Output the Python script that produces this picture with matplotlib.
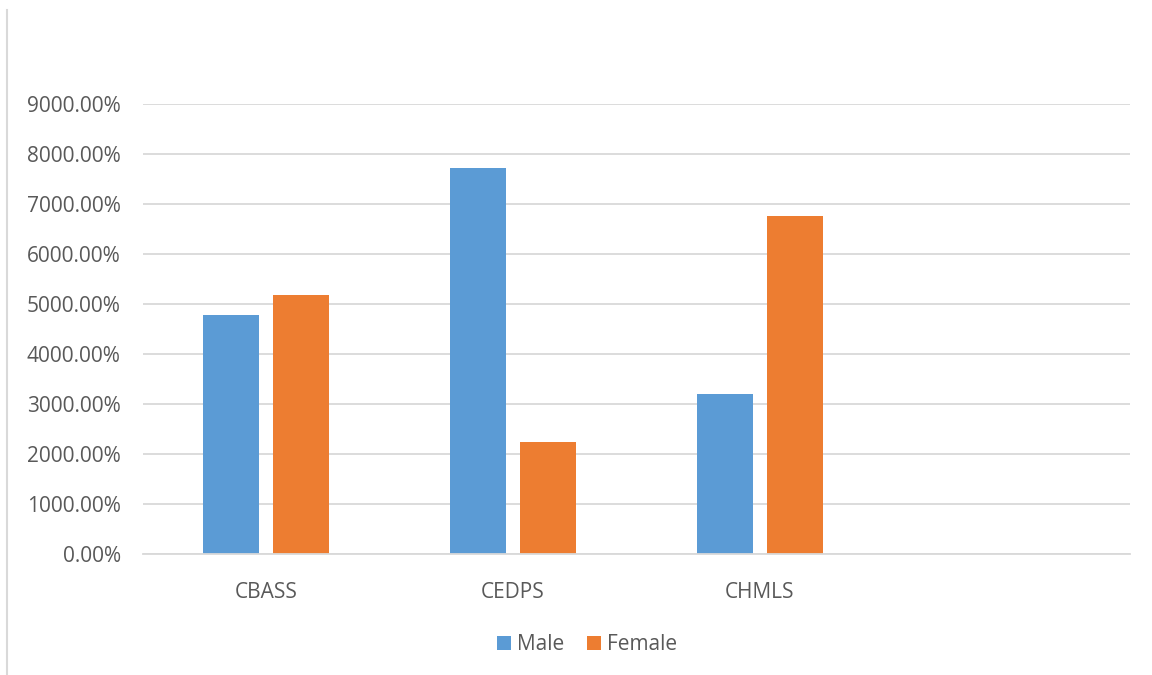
import matplotlib
matplotlib.use("Agg")
import matplotlib.pyplot as plt
from matplotlib.patches import Patch
from matplotlib.lines import Line2D

categories = ["CBASS", "CEDPS", "CHMLS", ""]
male = [4780, 7720, 3200, None]
female = [5180, 2240, 6760, None]
yticks = [0, 1000, 2000, 3000, 4000, 5000, 6000, 7000, 8000, 9000]

BLUE = "#5B9BD5"
ORANGE = "#ED7D31"
TEXT = "#595959"
GRID = "#D9D9D9"

plt.rcParams["font.family"] = ["Open Sans", "DejaVu Sans"]

fig = plt.figure(figsize=(11.52, 6.75), dpi=100)
ax = fig.add_axes([143 / 1152, 1 - 554 / 675, (1130 - 143) / 1152, (554 - 104) / 675])

width = 0.227
offset = 0.1418
for i, (m, f) in enumerate(zip(male, female)):
    if m is not None:
        ax.bar(i + 0.5 - offset, m, width, color=BLUE, zorder=3)
    if f is not None:
        ax.bar(i + 0.5 + offset, f, width, color=ORANGE, zorder=3)

ax.set_xlim(0, len(categories))
ax.set_ylim(0, 9000)
ax.set_yticks(yticks)
ax.set_yticklabels([f"{v:.2f}%" for v in yticks])
ax.set_xticks([i + 0.5 for i in range(len(categories))])
ax.set_xticklabels(categories)
ax.tick_params(axis="both", length=0, labelsize=15, colors=TEXT)
ax.tick_params(axis="y", pad=16)
ax.tick_params(axis="x", pad=20)
ax.grid(axis="y", color=GRID, linewidth=1.3, zorder=0)
for side in ("top", "right", "left"):
    ax.spines[side].set_visible(False)
ax.spines["bottom"].set_color(GRID)
ax.spines["bottom"].set_linewidth(1.3)
ax.spines["bottom"].set_zorder(4)

handles = [Patch(facecolor=BLUE, label="Male"), Patch(facecolor=ORANGE, label="Female")]
fig.legend(handles=handles, loc="center", bbox_to_anchor=(587 / 1152, 1 - 645 / 675),
           ncol=2, frameon=False, fontsize=15, labelcolor=TEXT,
           handlelength=0.65, handleheight=0.65, handletextpad=0.3, columnspacing=1.1)

# chart frame edge on the left
fig.add_artist(Line2D([7 / 1152, 7 / 1152], [0, 1 - 10 / 675], color=GRID, linewidth=1.5))

fig.savefig("out.png", dpi=100)
